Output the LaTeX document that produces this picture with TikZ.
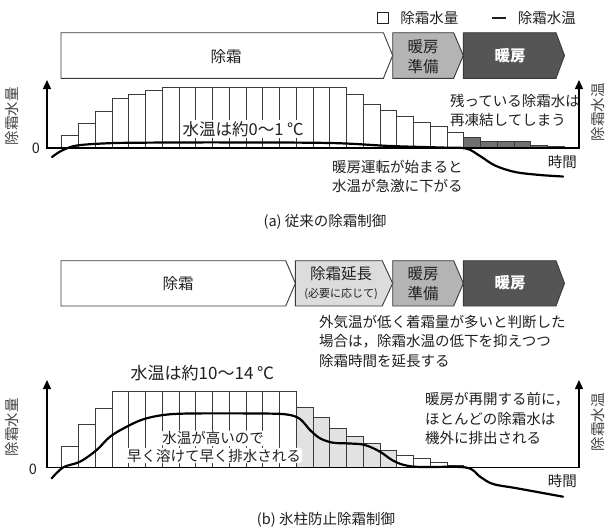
\documentclass[tikz,border=0pt]{standalone}
\usepackage{fontspec}
\setmainfont{Noto Sans CJK JP}
\usetikzlibrary{arrows.meta}
\definecolor{txt}{HTML}{231F20}
\definecolor{edge}{HTML}{3A3A3A}
\definecolor{midgray}{HTML}{B4B4B4}
\definecolor{lightg}{HTML}{DCDCDC}
\definecolor{darkg}{HTML}{555555}
\definecolor{bargray}{HTML}{707070}
\definecolor{barlight}{HTML}{E2E2E2}
\tikzset{
  lbl/.style={font=\fontsize{14.5}{19.5}\selectfont, text=txt, inner sep=1pt, align=left},
  big/.style={font=\fontsize{16.5}{20}\selectfont, text=txt, inner sep=1.5pt},
  stagetext/.style={font=\fontsize{15.5}{20}\selectfont, text=txt, align=center, inner sep=0pt},
  stagebold/.style={font=\bfseries\fontsize{15.5}{20}\selectfont, text=white, inner sep=0pt},
  stageline/.style={draw=edge, line width=0.9pt, line join=miter},
  barbox/.style={draw=edge, line width=0.8pt},
  axisline/.style={draw=black, line width=1.4pt, {Triangle[width=8pt,length=9pt]}-{Triangle[width=8pt,length=9pt]}},
  templine/.style={draw=black, line width=2.2pt, line cap=round},
  vlabel/.style={font=\fontsize{14.5}{18}\selectfont, text=txt!85, rotate=90, inner sep=0pt},
  caption/.style={font=\fontsize{14.5}{18}\selectfont, text=txt, inner sep=0pt}
}
\begin{document}
\begin{tikzpicture}[x=1pt,y=-1pt]
\useasboundingbox (0,0) rectangle (606,530);
\fill[white] (0,0) rectangle (606,530);

% ---------- legend ----------
\draw[draw=txt, line width=0.7pt] (377,12.5) rectangle (388,23.5);
\node[lbl, anchor=east] (leg-amount) at (459.5,18) {除霜水量};
\draw[txt, line width=2.6pt] (492,18) -- (506,18);
\node[lbl, anchor=east] (leg-temp) at (577,18) {除霜水温};

% ---------- (a) stages ----------
\filldraw[stageline, fill=white] (61,32.7) -- (383.4,32.7) -- (392.7,55.5) -- (383.4,78.3) -- (61,78.3) -- cycle;
\filldraw[stageline, fill=midgray] (392.7,32.7) -- (453.7,32.7) -- (463.3,55.5) -- (453.7,78.3) -- (392.7,78.3) -- cycle;
\filldraw[stageline, fill=darkg] (463.3,32.7) -- (556,32.7) -- (564.5,55.5) -- (556,78.3) -- (463.3,78.3) -- cycle;
\node[stagetext] (a-defrost) at (226,56.5) {除霜};
\node[stagetext] (a-prep) at (423,56.5) {暖房\\準備};
\node[stagebold] (a-heat) at (510,56) {暖房};

% ---------- (a) bars ----------
\foreach \h [count=\i from 0] in {12.7,24.4,36.7,50,53.7,57.7,60.5,60.5,60.5,60.5,60.5,60.5,60.5,60.5,60.5,60.5,60.5,54,44,37.5,31.5,26,22,15.7}
  \draw[barbox, fill=white] ({61.7+16.75*\i},148) rectangle ++(16.75,-\h);
\foreach \h [count=\i from 24] in {10.5,6.5,6.5,6.5,2.3,1.5}
  \draw[barbox, fill=bargray] ({61.7+16.75*\i},148) rectangle ++(16.75,-\h);

% ---------- (a) axes ----------
\coordinate (a-top) at (47,80);
\coordinate (a-o) at (47,148);
\coordinate (a-end) at (579,148);
\coordinate (a-rtop) at (579,80);
\draw[axisline] (a-top) -- (a-o) -- (a-end) -- (a-rtop);
\node[lbl] (a-zero) at (36,148) {0};
\node[vlabel] (a-ylab) at (12,116) {除霜水量};
\node[vlabel] (a-ylab2) at (598,112) {除霜水温};
\node[lbl, anchor=east] (a-time) at (578,161.7) {時間};

% ---------- (a) annotations ----------
\node[big, fill=white, anchor=west] (a-temp) at (181,129) {水温は約0～1 ℃};
\node[lbl, anchor=west] (a-refreeze) at (449,110.4) {残っている除霜水は\\再凍結してしまう};
\node[lbl, anchor=west] (a-drop) at (331,176.5) {暖房運転が始まると\\水温が急激に下がる};

% ---------- (a) temperature ----------
\draw[templine] plot[smooth, tension=0.55] coordinates {(52,157) (62,150.5) (77,145.5) (107,143.3) (140,142.7) (220,142.4) (330,143) (390,146) (440,147.5) (466,148.5) (480,156) (495,165.5) (515,172) (540,175) (563,176.5)};

\node[caption] (a-cap) at (325,221.7) {(a) 従来の除霜制御};

% ---------- (b) stages ----------
\filldraw[stageline, fill=white] (61,260.7) -- (285.7,260.7) -- (295.4,283.3) -- (285.7,306) -- (61,306) -- cycle;
\filldraw[stageline, fill=lightg] (295.4,260.7) -- (382.2,260.7) -- (392.7,283.3) -- (382.2,306) -- (295.4,306) -- cycle;
\filldraw[stageline, fill=midgray] (392.7,260.7) -- (453.7,260.7) -- (463.3,283.3) -- (453.7,306) -- (392.7,306) -- cycle;
\filldraw[stageline, fill=darkg] (463.3,260.7) -- (556,260.7) -- (564.5,283.3) -- (556,306) -- (463.3,306) -- cycle;
\node[stagetext] (b-defrost) at (178,283.3) {除霜};
\node[stagetext] (b-ext) at (341,273.3) {除霜延長};
\node[stagetext, font=\fontsize{11}{13}\selectfont] (b-ext2) at (341,294) {(必要に応じて)};
\node[stagetext] (b-prep) at (423,283.3) {暖房\\準備};
\node[stagebold] (b-heat) at (510,283) {暖房};

\node[lbl, anchor=west] (b-note) at (318,341) {外気温が低く着霜量が多いと判断した\\場合は，除霜水温の低下を抑えつつ\\除霜時間を延長する};

% ---------- (b) bars ----------
\foreach \h [count=\i from 0] in {20.6,43.3,59.3,75.8,75.8,75.8,75.8,75.8,75.8,75.8,75.8,75.8,75.8,75.8}
  \draw[barbox, fill=white] ({61.7+16.75*\i},467.3) rectangle ++(16.75,-\h);
\foreach \h [count=\i from 14] in {59.5,49.5,38.6,30.5,24,16.5}
  \draw[barbox, fill=barlight] ({61.7+16.75*\i},467.3) rectangle ++(16.75,-\h);
\foreach \h [count=\i from 20] in {12.3,9.3,4.8,1.7}
  \draw[barbox, fill=white] ({61.7+16.75*\i},467.3) rectangle ++(16.75,-\h);

% ---------- (b) axes ----------
\coordinate (b-top) at (47,380);
\coordinate (b-o) at (47,467.3);
\coordinate (b-end) at (579,467.3);
\coordinate (b-rtop) at (579,380);
\draw[axisline] (b-top) -- (b-o) -- (b-end) -- (b-rtop);
\node[lbl] (b-zero) at (33,469) {0};
\node[vlabel] (b-ylab) at (12,427) {除霜水量};
\node[vlabel] (b-ylab2) at (598,422) {除霜水温};
\node[lbl, anchor=east] (b-time) at (578,481) {時間};

% ---------- (b) annotations ----------
\node[big, font=\fontsize{17}{20}\selectfont, anchor=west] (b-temp) at (129,373.3) {水温は約10～14 ℃};
\node[lbl, fill=white, rounded corners=3pt] (b-fast1) at (213,438.3) {水温が高いので};
\node[lbl, fill=white, rounded corners=3pt] (b-fast2) at (214,455.5) {早く溶けて早く排水される};
\node[lbl, anchor=west] (b-drain) at (424,418.7) {暖房が再開する前に，\\ほとんどの除霜水は\\機外に排出される};

% ---------- (b) temperature ----------
\draw[templine] plot[smooth, tension=0.55] coordinates {(51.7,478.3) (63.3,467.3) (80,461.7) (96.7,450) (110,436.7) (126.7,426.7) (143.3,419.3) (163.3,415) (190,413.5) (260,413.5) (287,414.5) (300,419) (310,430) (320,438.3) (333,442.7) (350,443.5) (365,445) (380,451.7) (392,460) (404,465) (420,467) (466,467.5) (480,476.7) (493,484) (517,488.3) (563,496.7)};

\node[caption] (b-cap) at (326,520) {(b) 氷柱防止除霜制御};
\end{tikzpicture}
\end{document}
